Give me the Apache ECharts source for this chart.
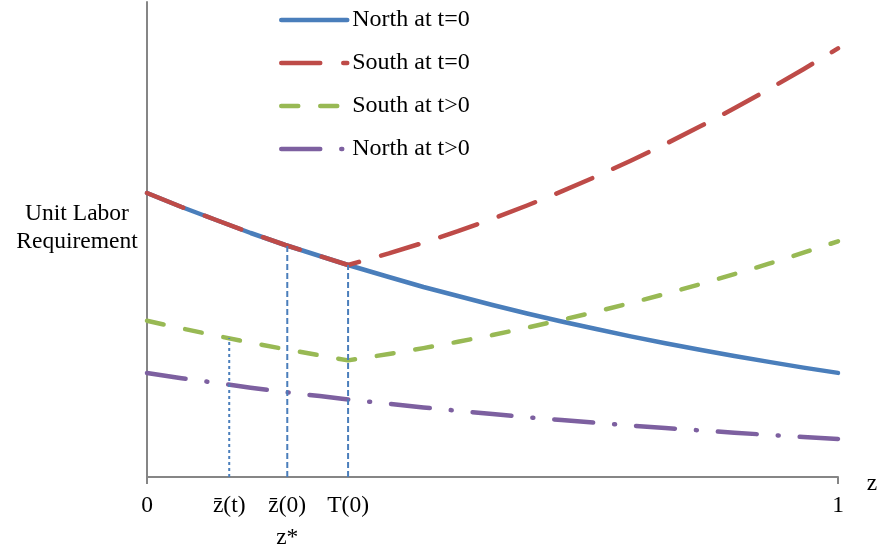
<!DOCTYPE html>
<html>
<head>
<meta charset="utf-8">
<script src="https://cdn.jsdelivr.net/npm/echarts@6/dist/echarts.min.js"></script>
<style>
  html, body { margin: 0; padding: 0; background: #ffffff; }
  #chart { width: 878px; height: 549px; }
</style>
</head>
<body>
<div id="chart"></div>
<script>
// Sample positions along z (0..1); 0.291 is the cut-off T(0)
var zPts = [0, 0.05, 0.1, 0.15, 0.2, 0.25, 0.291, 0.35, 0.4, 0.45, 0.5, 0.55, 0.6, 0.65, 0.7, 0.75, 0.8, 0.85, 0.9, 0.95, 1];

// Unit labor requirement of each curve at zPts
var northT0 = [284, 270, 257, 244, 232, 221, 212, 200, 190, 181, 172, 163.5, 155.5, 148, 140.6, 133.8, 127.2, 121, 115.1, 109.4, 104.1];
var southT0 = [284, 270, 257, 244, 232, 221, 212, 223.6, 234.3, 245.8, 258.2, 271.5, 285.6, 300.5, 316.3, 332.9, 350.4, 368.7, 387.8, 407.8, 428.6];
var southT1 = [156.2, 148.6, 141.3, 134.4, 127.8, 121.6, 116.6, 123, 128.9, 135.2, 142, 149.3, 157.1, 165.3, 174, 183.1, 192.7, 202.8, 213.3, 224.3, 235.7];
var northT1 = [104, 98.8, 94.1, 89.3, 84.9, 80.9, 77.6, 73.2, 69.5, 66.2, 63, 59.8, 56.9, 54.2, 51.5, 49, 46.6, 44.3, 42.1, 40, 38.1];

var seriesNames = ['North at t=0', 'South at t=0', 'South at t>0', 'North at t>0'];

// Marked thresholds on the z axis and the curve height each guide line reaches
var refZ = [0.119, 0.203, 0.291];
var refTop = [139, 232, 212];

// Axis labels and where they sit
var tickPos = [0, 0.119, 0.203, 0.291, 1];
var tickLabels = ['0', 'z\u0304(t)', 'z\u0304(0)\nz*', 'T(0)', '1'];

function pairs(xs, ys) {
  return xs.map(function (x, i) { return [x, ys[i]]; });
}

var FONT = '"Liberation Serif", "Times New Roman", serif';
var AXIS_GRAY = '#868686';
var GUIDE_BLUE = '#4a7ebb';
var LINE_W = 4.5;

var curveStyles = [
  { color: '#4a7ebb', type: 'solid' },
  { color: '#be4b48', type: [39, 23] },
  { color: '#98b954', type: [17, 22] },
  { color: '#7d60a0', type: [39, 21, 1, 21] }
];
var curveData = [northT0, southT0, southT1, northT1];

var series = curveData.map(function (vals, i) {
  return {
    name: seriesNames[i],
    type: 'line',
    data: pairs(zPts, vals),
    symbol: 'none',
    smooth: false,
    z: 3,
    lineStyle: {
      color: curveStyles[i].color,
      width: LINE_W,
      type: curveStyles[i].type,
      cap: 'round',
      join: 'round'
    },
    itemStyle: { color: curveStyles[i].color }
  };
});

// Vertical guide lines from the z axis up to the curves
var guideDash = [[3, 3], [6, 3], [6, 3]];
refZ.forEach(function (zv, i) {
  series.push({
    name: 'guide' + i,
    type: 'line',
    data: [[zv, 0], [zv, refTop[i]]],
    symbol: 'none',
    z: 4,
    silent: true,
    lineStyle: { color: GUIDE_BLUE, width: 2, type: guideDash[i] }
  });
});

var chart = echarts.init(document.getElementById('chart'), null, { renderer: 'canvas' });
chart.setOption({
  animation: false,
  backgroundColor: '#ffffff',
  grid: { left: 147, right: 40, top: 2, bottom: 72, containLabel: false, outerBoundsMode: 'none' },
  legend: {
    data: seriesNames,
    orient: 'vertical',
    left: 274,
    top: 3,
    itemWidth: 66,
    itemHeight: 14,
    itemGap: 19,
    itemStyle: { opacity: 0 },
    lineStyle: { width: LINE_W, cap: 'round' },
    textStyle: { fontFamily: FONT, fontSize: 24, color: '#000000', lineHeight: 24 }
  },
  xAxis: {
    type: 'value',
    min: 0,
    max: 1,
    axisLine: { show: true, onZero: false, lineStyle: { color: AXIS_GRAY, width: 2 } },
    axisTick: { show: true, customValues: [0, 1], length: 7, lineStyle: { color: AXIS_GRAY, width: 2 } },
    axisLabel: {
      show: true,
      customValues: tickPos,
      margin: 13,
      fontFamily: FONT,
      fontSize: 23.5,
      color: '#000000',
      lineHeight: 32,
      formatter: function (v) {
        var idx = tickPos.indexOf(v);
        return idx >= 0 ? tickLabels[idx] : '';
      }
    },
    splitLine: { show: false }
  },
  yAxis: {
    type: 'value',
    min: 0,
    max: 475,
    axisLine: { show: true, lineStyle: { color: AXIS_GRAY, width: 2 } },
    axisTick: { show: false },
    axisLabel: { show: false },
    splitLine: { show: false }
  },
  graphic: [{
    type: 'text',
    x: 77,
    y: 228,
    style: {
      text: 'Unit Labor\nRequirement',
      fontFamily: FONT,
      fontSize: 23.5,
      lineHeight: 28,
      fill: '#000000',
      align: 'center',
      verticalAlign: 'middle'
    }
  }, {
    // x-axis title, just past the end of the axis
    type: 'text',
    x: 872,
    y: 484,
    style: {
      text: 'z',
      fontFamily: FONT,
      fontSize: 23.5,
      fill: '#000000',
      align: 'center',
      verticalAlign: 'middle'
    }
  }],
  series: series
});
</script>
</body>
</html>
